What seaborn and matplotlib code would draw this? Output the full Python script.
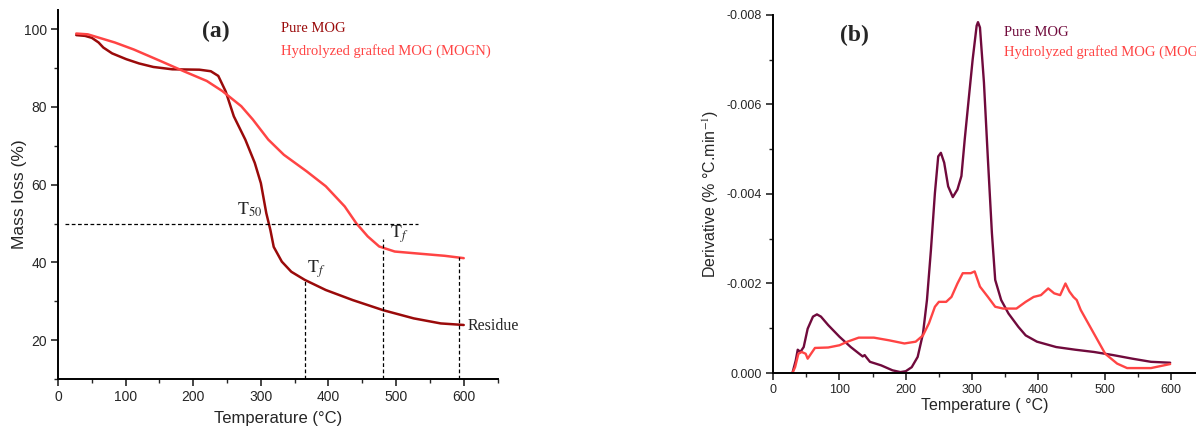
import numpy as np
import pandas as pd
import matplotlib
matplotlib.use("Agg")
import matplotlib.pyplot as plt
import seaborn as sns
from matplotlib.ticker import MultipleLocator, FormatStrFormatter

sns.set_style("ticks")
plt.rcParams['font.family'] = ['Liberation Sans', 'DejaVu Sans']
plt.rcParams['mathtext.fontset'] = 'stix'
plt.rcParams['axes.unicode_minus'] = False

# ---- Panel (a) TG data ----
tg_pure_T = [27, 40, 50, 60, 67, 80, 101, 120, 141, 169, 209, 226, 237, 248, 260, 277, 291, 300,
             308, 314, 319, 331, 345, 365, 396, 436, 481, 526, 566, 600]
tg_pure_m = [98.5, 98.3, 97.8, 96.6, 95.3, 93.8, 92.3, 91.2, 90.3, 89.7, 89.6, 89.2, 88.0, 84.0,
             77.6, 71.6, 65.6, 60.4, 52.7, 48.4, 44.0, 40.2, 37.6, 35.5, 32.9, 30.3, 27.7, 25.6,
             24.3, 23.9]
tg_mogn_T = [27, 44, 84, 112, 152, 186, 220, 243, 271, 288, 311, 334, 368, 396, 424, 441, 458,
             475, 498, 538, 572, 600]
tg_mogn_m = [98.9, 98.7, 96.6, 94.8, 91.8, 89.2, 86.7, 84.1, 80.2, 76.8, 71.6, 67.7, 63.4, 59.6,
             54.4, 50.1, 46.7, 44.1, 42.8, 42.2, 41.7, 41.1]

# ---- Panel (b) DTG data (in 0.001 %/°C.min, plotted negative) ----
dtg_pure_T = [29, 34, 37, 41, 46, 52, 60, 66, 72, 83, 100, 117, 135, 138, 140, 146, 163, 180, 192,
              200, 209, 218, 226, 232, 238, 244, 249, 253, 258, 264, 271, 278, 284, 289, 295, 301,
              307, 309, 312, 318, 324, 330, 335, 344, 355, 370, 381, 398, 427, 456, 484, 513, 542,
              570, 599]
dtg_pure_d = [0.0, 0.28, 0.52, 0.47, 0.58, 0.99, 1.26, 1.31, 1.26, 1.07, 0.81, 0.58, 0.37, 0.40,
              0.36, 0.25, 0.17, 0.06, 0.02, 0.04, 0.13, 0.36, 0.88, 1.63, 2.75, 4.02, 4.84, 4.92,
              4.70, 4.17, 3.93, 4.10, 4.40, 5.22, 6.12, 7.01, 7.76, 7.84, 7.72, 6.49, 4.77, 3.13,
              2.08, 1.63, 1.33, 1.03, 0.84, 0.70, 0.58, 0.52, 0.47, 0.40, 0.32, 0.25, 0.23]
dtg_mogn_T = [29, 33, 38, 43, 49, 52, 57, 63, 83, 100, 112, 129, 152, 175, 198, 215, 226, 235, 244,
              250, 261, 269, 278, 286, 298, 304, 312, 324, 335, 347, 367, 381, 393, 404, 415, 424,
              433, 441, 447, 453, 458, 464, 484, 501, 519, 534, 570, 599]
dtg_mogn_d = [0.0, 0.13, 0.43, 0.47, 0.43, 0.32, 0.43, 0.56, 0.57, 0.62, 0.70, 0.79, 0.79, 0.73,
              0.66, 0.70, 0.84, 1.11, 1.48, 1.59, 1.59, 1.70, 2.00, 2.23, 2.23, 2.27, 1.93, 1.70,
              1.48, 1.44, 1.44, 1.59, 1.70, 1.74, 1.89, 1.78, 1.74, 2.00, 1.82, 1.70, 1.63, 1.41,
              0.88, 0.43, 0.21, 0.11, 0.11, 0.20]

labels = ["Pure MOG", "Hydrolyzed grafted MOG (MOGN)"]
c_pure_a = "#9a0a0a"
c_pure_b = "#700a3c"
c_mogn = "#ff4444"

tg = pd.concat([
    pd.DataFrame({"T": tg_pure_T, "m": tg_pure_m, "s": labels[0]}),
    pd.DataFrame({"T": tg_mogn_T, "m": tg_mogn_m, "s": labels[1]}),
])
dtg = pd.concat([
    pd.DataFrame({"T": dtg_pure_T, "d": -np.array(dtg_pure_d) / 1000, "s": labels[0]}),
    pd.DataFrame({"T": dtg_mogn_T, "d": -np.array(dtg_mogn_d) / 1000, "s": labels[1]}),
])

fig = plt.figure(figsize=(11.96, 4.28), dpi=100)
ax1 = fig.add_axes([0.0485, 0.1145, 0.3675, 0.8625])
ax2 = fig.add_axes([0.6465, 0.1285, 0.3535, 0.8365])

serif = ['Liberation Serif', 'DejaVu Serif']

# ---- Panel (a) ----
sns.lineplot(data=tg, x="T", y="m", hue="s", palette=[c_pure_a, c_mogn], ax=ax1,
             legend=False, linewidth=1.8, sort=False, estimator=None)
ax1.set_xlim(0, 650)
ax1.set_ylim(10, 105)
ax1.xaxis.set_major_locator(MultipleLocator(100))
ax1.xaxis.set_minor_locator(MultipleLocator(50))
ax1.yaxis.set_minor_locator(MultipleLocator(10))
ax1.set_yticks([20, 40, 60, 80, 100])
ax1.set_xlabel("Temperature (°C)", fontsize=12, labelpad=5)
ax1.set_ylabel("Mass loss (%)", fontsize=12.5)
ax1.yaxis.set_label_coords(-0.0705, 0.5)
# dashed guides
ax1.plot([10, 532], [50, 50], ls=(0, (3, 2)), color="black", lw=0.9)
ax1.plot([365, 365], [10, 35.5], ls=(0, (3, 2)), color="black", lw=0.9)
ax1.plot([480, 480], [10, 46], ls=(0, (3, 2)), color="black", lw=0.9)
ax1.plot([593, 593], [10, 41.3], ls=(0, (3, 2)), color="black", lw=0.9)
ax1.text(234, 99.5, "(a)", fontsize=17, fontweight="bold", family=serif, ha="center", va="center")
ax1.text(330, 100.2, labels[0], color=c_pure_a, fontsize=10.5, family=serif, va="center")
ax1.text(330, 94.5, labels[1], color=c_mogn, fontsize=10.5, family=serif, va="center")
ax1.text(265, 53.5, r"$\mathrm{T}_{50}$", fontsize=13, va="center")
ax1.text(368, 38.3, r"$\mathrm{T}_{f}$", fontsize=13, va="center")
ax1.text(491, 47.3, r"$\mathrm{T}_{f}$", fontsize=13, va="center")
ax1.text(605, 23.6, "Residue", fontsize=11.5, family=serif, va="center")

# ---- Panel (b) ----
sns.lineplot(data=dtg, x="T", y="d", hue="s", palette=[c_pure_b, c_mogn], ax=ax2,
             legend=False, linewidth=1.7, sort=False, estimator=None)
ax2.set_xlim(0, 638)
ax2.set_ylim(0, -0.008)
ax2.xaxis.set_major_locator(MultipleLocator(100))
ax2.xaxis.set_minor_locator(MultipleLocator(50))
ax2.yaxis.set_major_locator(MultipleLocator(0.002))
ax2.yaxis.set_minor_locator(MultipleLocator(0.001))
ax2.yaxis.set_major_formatter(FormatStrFormatter("%.3f"))
ax2.set_xlabel("Temperature ( °C)", fontsize=11.5, labelpad=1)
ax2.set_ylabel("Derivative (% °C.min$^{-1}$)", fontsize=11.5)
ax2.yaxis.set_label_coords(-0.123, 0.5)
ax2.text(123, -0.00754, "(b)", fontsize=17, fontweight="bold", family=serif, ha="center", va="center")
ax2.text(348, -0.0076, labels[0], color=c_pure_b, fontsize=10.5, family=serif, va="center")
ax2.text(348, -0.00718, labels[1], color=c_mogn, fontsize=10.5, family=serif, va="center")

for ax, ls in ((ax1, 10), (ax2, 9)):
    sns.despine(ax=ax)
    for sp in ("left", "bottom"):
        ax.spines[sp].set_linewidth(1.4)
        ax.spines[sp].set_color("black")
    ax.tick_params(which="major", direction="out", length=5, width=1.2, labelsize=ls, pad=3)
    ax.tick_params(which="minor", direction="out", length=3, width=1.0)
    ax.grid(False)

fig.savefig("out.png", dpi=100)
